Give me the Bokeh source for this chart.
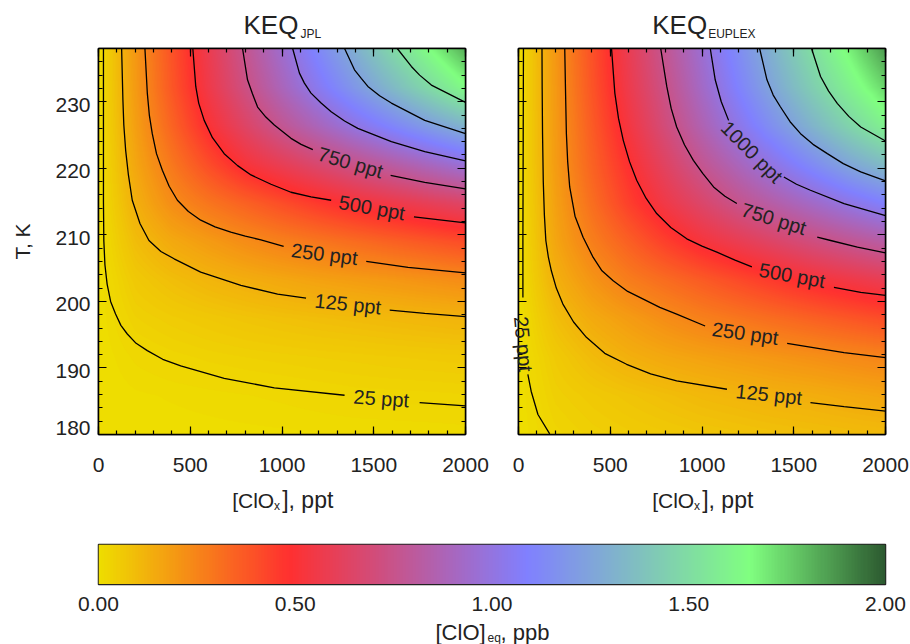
import numpy as np
from bokeh.core.properties import value
from bokeh.embed import file_html
from bokeh.layouts import column, row
from bokeh.models import FixedTicker, LinearAxis, LinearColorMapper, Range1d
from bokeh.plotting import figure
from bokeh.resources import INLINE

# ---- axes
x_major = [0, 500, 1000, 1500, 2000]
x_minor = list(range(0, 2001, 100))
t_major = [180, 190, 200, 210, 220, 230]
t_minor = list(range(180, 239, 2))
bar_ticks = [0, 0.5, 1, 1.5, 2]
bar_labels = ["0.00", "0.50", "1.00", "1.50", "2.00"]

# ---- colour scale (ppb position, colour)
stop_pos = [0.0, 0.483, 1.09, 1.657, 2.0]
stop_rgb = [(238, 221, 0), (255, 48, 48), (128, 128, 255), (128, 255, 128), (44, 90, 48)]

# ---- field, ppt. Columns and rows:
grid_x = [0, 200, 400, 600, 800, 1000, 1200, 1400, 1600, 1800, 2000]
grid_t = [180, 185.8, 191.6, 197.4, 203.2, 209, 214.8, 220.6, 226.4, 232.2, 238]
jpl_180 = [0, 2, 3, 4, 5, 6, 7, 8, 9, 10, 11]
jpl_186 = [0, 6, 9, 12, 15, 18, 22, 26, 27, 28, 30]
jpl_192 = [0, 18, 27, 34, 39, 43, 47, 50, 54, 57, 60]
jpl_197 = [0, 38, 52, 63, 74, 83, 91, 98, 105, 112, 120]
jpl_203 = [0, 60, 90, 115, 135, 153, 170, 183, 197, 213, 229]
jpl_209 = [0, 93, 149, 188, 227, 262, 291, 320, 349, 378, 407]
jpl_215 = [0, 130, 227, 293, 349, 405, 461, 513, 558, 602, 647]
jpl_221 = [0, 156, 287, 406, 516, 593, 669, 746, 823, 900, 977]
jpl_226 = [0, 176, 342, 503, 640, 773, 890, 1005, 1110, 1215, 1317]
jpl_232 = [0, 189, 379, 559, 727, 889, 1046, 1195, 1341, 1486, 1636]
jpl_238 = [0, 198, 391, 579, 764, 947, 1125, 1301, 1476, 1648, 1820]

eup_180 = [0, 28, 42, 52, 60, 68, 75, 82, 88, 94, 100]
eup_186 = [0, 42, 60, 75, 90, 105, 115, 127, 135, 148, 161]
eup_192 = [0, 57, 98, 130, 153, 170, 186, 202, 218, 235, 251]
eup_197 = [0, 89, 145, 185, 225, 261, 290, 319, 348, 377, 406]
eup_203 = [0, 127, 205, 271, 319, 366, 414, 462, 510, 550, 590]
eup_209 = [0, 158, 266, 354, 443, 522, 585, 648, 711, 771, 826]
eup_215 = [0, 172, 313, 442, 555, 655, 755, 840, 925, 1010, 1091]
eup_221 = [0, 185, 345, 489, 630, 768, 891, 1013, 1135, 1256, 1354]
eup_226 = [0, 189, 366, 536, 702, 863, 1020, 1171, 1317, 1458, 1595]
eup_232 = [0, 193, 384, 568, 741, 923, 1099, 1271, 1433, 1589, 1741]
eup_238 = [0, 198, 395, 587, 773, 958, 1144, 1326, 1503, 1680, 1860]

nan = float("nan")

# ---- contours (nan = gap for the label)
jpl25_x = [27, 27, 29, 35, 47, 66, 93, 122, 157, 205, 266, 350, 448, 685, 958, 1341, nan, 1750, 2000]
jpl25_y = [238, 215, 209.15, 205.5, 202.6, 200, 198.1, 196.4, 195.1, 193.7, 192.6, 191.3, 190.3, 188.45, 187.0, 185.9, nan, 184.8, 184.3]
jpl125_x = [126, 133, 138, 148, 163, 184, 226, 275, 340, 412, 557, 776, 976, 1131, nan, 1587, 1778, 2000]
jpl125_y = [238, 230.25, 226.5, 222.7, 219, 215.2, 211.7, 209.15, 207.5, 206.4, 204.4, 202.4, 201.1, 200.5, nan, 198.7, 198.2, 197.7]
jpl250_x = [253, 266, 277, 293, 316, 348, 385, 430, 490, 557, 635, 721, 800, 885, 1009, nan, 1459, 1687, 2000]
jpl250_y = [238, 231.3, 228, 225.2, 222.2, 219.7, 217.3, 215.2, 213.5, 212.2, 211.2, 210.4, 209.8, 209.25, 208.25, nan, 206.0, 205.1, 204.3]
jpl500_x = [514, 530, 546, 576, 621, 685, 758, 831, 940, 1049, 1158, 1268, nan, 1719, 2000]
jpl500_y = [238, 232.3, 229.8, 227.2, 224.6, 222.2, 220.4, 219.0, 217.6, 216.4, 215.7, 215.2, nan, 212.7, 211.8]
jpl750_x = [785, 812, 839, 867, 912, 958, 1049, 1104, 1168, nan, 1592, 1778, 2000]
jpl750_y = [238, 233.3, 231.2, 229.2, 227.7, 226.5, 224.5, 223.6, 222.8, nan, 218.95, 217.9, 216.9]
jpl1000_x = [1058, 1095, 1122, 1158, 1213, 1268, 1341, 1413, 1596, 1778, 2000]
jpl1000_y = [238, 234.3, 232.8, 231.3, 229.8, 228.5, 227.1, 226.0, 224.0, 222.5, 221.1]
jpl1250_x = [1341, 1395, 1432, 1468, 1532, 1596, 1778, 2000]
jpl1250_y = [238, 234.8, 233.5, 232.3, 230.9, 229.8, 227.2, 225.2]
jpl1500_x = [1628, 1705, 1750, 1814, 2000]
jpl1500_y = [238, 235.3, 234.0, 232.5, 229.9]

eup25_x = [27, 24, 24, nan, 51, 69, 106, 170]
eup25_y = [238, 209.15, 200.6, nan, 189.05, 186.5, 183.0, 180.1]
eup125_x = [128, 129, 131, 135, 141, 149, 163, 179, 206, 242, 300, 370, 470, 589, 720, 862, 1136, nan, 1591, 1774, 2000]
eup125_y = [238, 232, 225.2, 218, 213, 209.15, 206.6, 204.6, 202, 199.6, 196.9, 194.6, 192.2, 190.55, 189.1, 188.05, 186.8, nan, 184.8, 184.2, 183.5]
eup250_x = [252, 256, 261, 268, 279, 308, 352, 407, 455, 516, 595, 680, 770, 862, 1017, nan, 1464, 1774, 2000]
eup250_y = [238, 232, 225.2, 221, 217.2, 212.8, 209.65, 206.6, 204.6, 203.1, 201.5, 200.35, 199.1, 198.1, 196.3, nan, 193.7, 192.3, 191.55]
eup500_x = [507, 525, 545, 571, 605, 644, 695, 753, 830, 917, 1000, 1081, 1180, 1272, nan, 1719, 1865, 2000]
eup500_y = [238, 231.3, 227.5, 224.2, 221, 218.2, 215.5, 213.2, 211.1, 209.4, 208.3, 207.4, 206.2, 205.2, nan, 202.1, 201.35, 200.9]
eup750_x = [775, 808, 832, 862, 905, 953, 1005, 1063, 1125, 1190, nan, 1628, 1701, 1847, 2000]
eup750_y = [238, 232.3, 229, 226.2, 223.5, 221.2, 219.2, 217.2, 215.8, 214.7, nan, 209.65, 209.15, 208.15, 207.3]
eup1000_x = [1045, 1072, 1105, 1145, nan, 1446, 1515, 1591, 1774, 2000]
eup1000_y = [238, 233.3, 230, 227.2, nan, 218.7, 217.6, 216.7, 214.7, 212.9]
eup1250_x = [1314, 1354, 1388, 1427, 1480, 1537, 1605, 1683, 1770, 1865, 2000]
eup1250_y = [238, 233.3, 231, 229.25, 227, 225.2, 223.6, 222.2, 220.7, 219.45, 218.1]
eup1500_x = [1597, 1646, 1690, 1737, 1800, 1865, 2000]
eup1500_y = [238, 233.8, 231.6, 229.75, 227.8, 226.2, 224.1]

# ---- contour labels
jpl_lab_text = ["750 ppt", "500 ppt", "250 ppt", "125 ppt", "25 ppt"]
jpl_lab_x = [1373, 1490, 1231, 1359, 1541]
jpl_lab_y = [220.86, 214.07, 207.1, 199.6, 185.4]
jpl_lab_ang = [-16, -10, -7, -6, -4]
eup_lab_text = ["1000 ppt", "750 ppt", "500 ppt", "250 ppt", "125 ppt", "25 ppt"]
eup_lab_x = [1272, 1391, 1491, 1236, 1364, 27]
eup_lab_y = [222.46, 212.4, 203.9, 195.2, 186.0, 193.6]
eup_lab_ang = [-45, -17, -10, -8, -6, -85]

FONT = "Liberation Sans"
INK = "#222222"
TICK_PT = "21px"
TOP, FRAME_W, FRAME_H = 48, 367, 386

# palette built from the colour stops
scale = np.linspace(0, 2, 256)
palette = []
for v in scale:
    c = [np.interp(v, stop_pos, [s[k] for s in stop_rgb]) for k in range(3)]
    palette.append("#%02x%02x%02x" % tuple(int(round(a)) for a in c))
mapper = LinearColorMapper(palette=palette, low=0, high=2)


def display_image(rows):
    """Bilinear display resampling of the read grid (Bokeh's SVG image is drawn pixelated)."""
    field = np.array(rows, dtype=float) / 1000.0
    xs = np.linspace(grid_x[0], grid_x[-1], FRAME_W)
    ts = np.linspace(grid_t[0], grid_t[-1], FRAME_H)
    by_x = np.array([np.interp(xs, grid_x, r) for r in field])
    return np.array([np.interp(ts, grid_t, by_x[:, i]) for i in range(by_x.shape[1])]).T


def panel(width, left, field, contours, lab_text, lab_x, lab_y, lab_ang, show_y):
    p = figure(width=width, height=525, x_range=Range1d(0, 2000), y_range=Range1d(180, 238),
               output_backend="svg", toolbar_location=None, min_border_left=left,
               min_border_right=25, min_border_top=TOP, min_border_bottom=91,
               x_axis_type=None, y_axis_type=None, background_fill_color="white",
               border_fill_color="white", outline_line_color="black", outline_line_width=1.5)
    p.image(image=[display_image(field)], x=0, y=180, dw=2000, dh=58, color_mapper=mapper)
    for cx, cy in contours:
        p.line(cx, cy, line_color="black", line_width=1.3)

    xt = FixedTicker(ticks=x_major, minor_ticks=x_minor)
    yt = FixedTicker(ticks=t_major, minor_ticks=t_minor)
    for side, ticker, major in (("below", xt, x_major), ("above", xt, x_major),
                                ("left", yt, t_major), ("right", yt, t_major)):
        ax = LinearAxis(ticker=ticker, major_tick_in=8, major_tick_out=0, minor_tick_in=4,
                        minor_tick_out=0, major_tick_line_color="black", minor_tick_line_color="black",
                        major_tick_line_width=1.2, minor_tick_line_width=1.2,
                        axis_line_color="black", axis_line_width=1.5,
                        major_label_text_font=FONT, major_label_text_font_size=TICK_PT,
                        major_label_text_color=INK)
        if side == "below":
            ax.major_label_standoff = 23
        else:
            ax.major_label_overrides = {t: "" for t in major}
            ax.major_label_standoff = 0
        p.add_layout(ax, side)

    def sy_of(t):
        return TOP + (238 - t) / 58 * FRAME_H

    def text(txt, sx, sy, size=TICK_PT, align="left", angle=0):
        # text outside the frame: a glyph on the overlay level is not clipped
        p.text(x=[(sx - left) / FRAME_W * 2000], y=[238 - (sy - TOP) / FRAME_H * 58], text=[txt],
               angle=angle, angle_units="deg", text_font=value(FONT), text_font_size=size,
               text_color=INK, text_align=align, text_baseline="middle", level="overlay")

    if show_y:
        for t in t_major:
            text(str(t), left - 8, sy_of(t) + (-7 if t == 180 else 3), align="right")
        text("T, K", 22, sy_of(209), align="center", angle=90)

    p.text(x=lab_x, y=lab_y, text=lab_text, angle=lab_ang, angle_units="deg", text_font=value(FONT),
           text_font_size="20px", text_color=INK, text_align="center", text_baseline="middle",
           level="overlay")

    text("[ClO", left + 133.7, 499.7)
    text("x", left + 175.5, 505.9, size="12px")
    text("], ppt", left + 183.7, 499.7, size="23px")
    return p, text


jpl_rows = [jpl_180, jpl_186, jpl_192, jpl_197, jpl_203, jpl_209, jpl_215, jpl_221, jpl_226, jpl_232, jpl_238]
eup_rows = [eup_180, eup_186, eup_192, eup_197, eup_203, eup_209, eup_215, eup_221, eup_226, eup_232, eup_238]
jpl_lines = [(jpl25_x, jpl25_y), (jpl125_x, jpl125_y), (jpl250_x, jpl250_y), (jpl500_x, jpl500_y),
             (jpl750_x, jpl750_y), (jpl1000_x, jpl1000_y), (jpl1250_x, jpl1250_y), (jpl1500_x, jpl1500_y)]
eup_lines = [(eup25_x, eup25_y), (eup125_x, eup125_y), (eup250_x, eup250_y), (eup500_x, eup500_y),
             (eup750_x, eup750_y), (eup1000_x, eup1000_y), (eup1250_x, eup1250_y), (eup1500_x, eup1500_y)]

p1, text1 = panel(490, 98, jpl_rows, jpl_lines, jpl_lab_text, jpl_lab_x, jpl_lab_y, jpl_lab_ang, True)
text1("KEQ", 98 + 145, 24, size="26px")
text1("JPL", 98 + 202, 33.4, size="12px")

p2, text2 = panel(420, 28, eup_rows, eup_lines, eup_lab_text, eup_lab_x, eup_lab_y, eup_lab_ang, False)
text2("KEQ", 28 + 133.7, 24, size="26px")
text2("EUPLEX", 28 + 189.7, 33.4, size="12px")

# colour bar
bar = figure(width=910, height=119, x_range=Range1d(0, 2), y_range=Range1d(0, 1),
             output_backend="svg", toolbar_location=None, min_border_left=98, min_border_right=25,
             min_border_top=19, min_border_bottom=60, x_axis_type=None, y_axis_type=None,
             outline_line_color="#222222", outline_line_width=1.5)
bar.image(image=[scale.reshape(1, -1)], x=0, y=0, dw=2, dh=1, color_mapper=mapper)
bax = LinearAxis(ticker=FixedTicker(ticks=bar_ticks), major_label_overrides=dict(zip(bar_ticks, bar_labels)),
                 major_tick_in=0, major_tick_out=0, minor_tick_line_color=None, axis_line_color="#222222",
                 major_label_text_font=FONT, major_label_text_font_size=TICK_PT,
                 major_label_text_color=INK, major_label_standoff=12)
bar.add_layout(bax, "below")
# page pixels of the bar's title -> bar coordinates (frame 98..885 x 544..584)
bar_x = [(435 - 98) / 787 * 2, (487 - 98) / 787 * 2, (500 - 98) / 787 * 2]
bar_y = [-(631.7 - 584) / 40, -(637 - 584) / 40, -(631.7 - 584) / 40]
bar.text(x=bar_x, y=bar_y, text=["[ClO]", "eq", ", ppb"], text_font=value(FONT),
         text_font_size=["22px", "12px", "22px"], text_color=INK, text_align="left",
         text_baseline="middle", level="overlay")

page = column(row(p1, p2, spacing=0), bar, spacing=0)
open("out.html", "w").write(file_html(page, INLINE))
